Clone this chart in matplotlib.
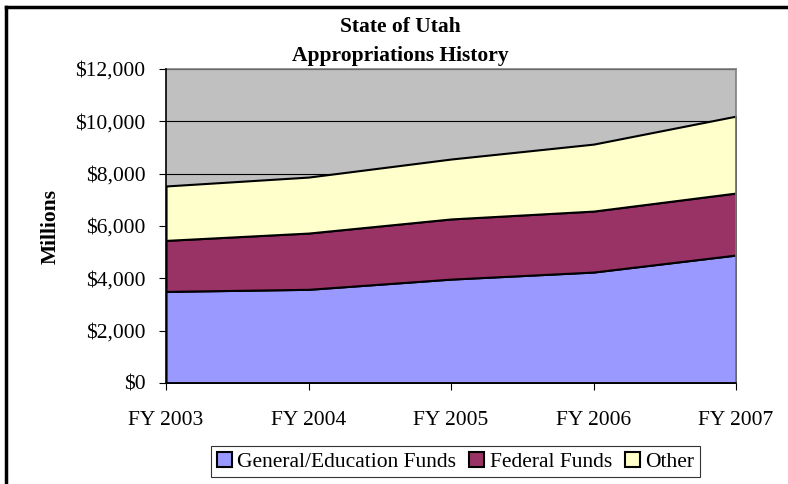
import matplotlib.pyplot as plt
from matplotlib.patches import Patch
from matplotlib.ticker import FuncFormatter

plt.rcParams['font.family'] = ['Liberation Serif', 'DejaVu Serif']

# Data (millions of dollars)
years = ['FY 2003', 'FY 2004', 'FY 2005', 'FY 2006', 'FY 2007']
general = [3500, 3580, 3970, 4240, 4890]
federal = [1950, 2150, 2300, 2330, 2370]
other = [2080, 2140, 2290, 2560, 2940]

labels = ['General/Education Funds', 'Federal Funds', 'Other']
colors = ['#9999FF', '#993366', '#FFFFCC']

fig = plt.figure(figsize=(7.88, 4.84), dpi=100)
ax = fig.add_axes([0.2107, 0.2087, 0.7234, 0.6487])
ax.set_facecolor('#C0C0C0')

x = list(range(len(years)))
ax.stackplot(x, general, federal, other, colors=colors,
             edgecolor='black', linewidth=1.5, zorder=2)

ax.set_xlim(0, len(years) - 1)
ax.set_ylim(0, 12000)
ax.set_yticks(range(0, 12001, 2000))
ax.yaxis.set_major_formatter(FuncFormatter(lambda v, p: '${:,.0f}'.format(v)))
ax.set_xticks(x)
ax.set_xticklabels(years)
ax.grid(axis='y', color='black', linewidth=0.8, zorder=1)
ax.set_axisbelow(True)

ax.tick_params(axis='both', labelsize=15.5, direction='out', length=5, color='black')
ax.tick_params(axis='x', pad=15)
ax.tick_params(axis='y', pad=10)
for s in ['top', 'right']:
    ax.spines[s].set_color('#808080')
    ax.spines[s].set_linewidth(1.2)
for s in ['left', 'bottom']:
    ax.spines[s].set_linewidth(1.2)
    ax.spines[s].set_zorder(3)

ax.set_ylabel('Millions', fontsize=15.5, fontweight='bold', labelpad=10)

fig.text(0.508, 0.944, 'State of Utah', ha='center', va='center',
         fontsize=15.5, fontweight='bold')
fig.text(0.508, 0.884, 'Appropriations History', ha='center', va='center',
         fontsize=15.5, fontweight='bold')

handles = [Patch(facecolor=c, edgecolor='black', linewidth=1.5) for c in colors]
leg = fig.legend(handles, labels, loc='center', bbox_to_anchor=(0.578, 0.046),
                 ncol=3, fontsize=15.5, frameon=True, fancybox=False,
                 handlelength=0.7, handleheight=0.7, handletextpad=0.25,
                 columnspacing=0.6, borderpad=0.25, borderaxespad=0)
leg.get_frame().set_edgecolor('black')
leg.get_frame().set_linewidth(0.8)

# outer chart frame (only left and top edges fall inside the image)
fig.add_artist(plt.Line2D([0.0076, 0.0076], [0, 0.986], color='black', linewidth=2.5))
fig.add_artist(plt.Line2D([0.0076, 1.0], [0.986, 0.986], color='black', linewidth=2.5))

fig.savefig('out.png', dpi=100)
